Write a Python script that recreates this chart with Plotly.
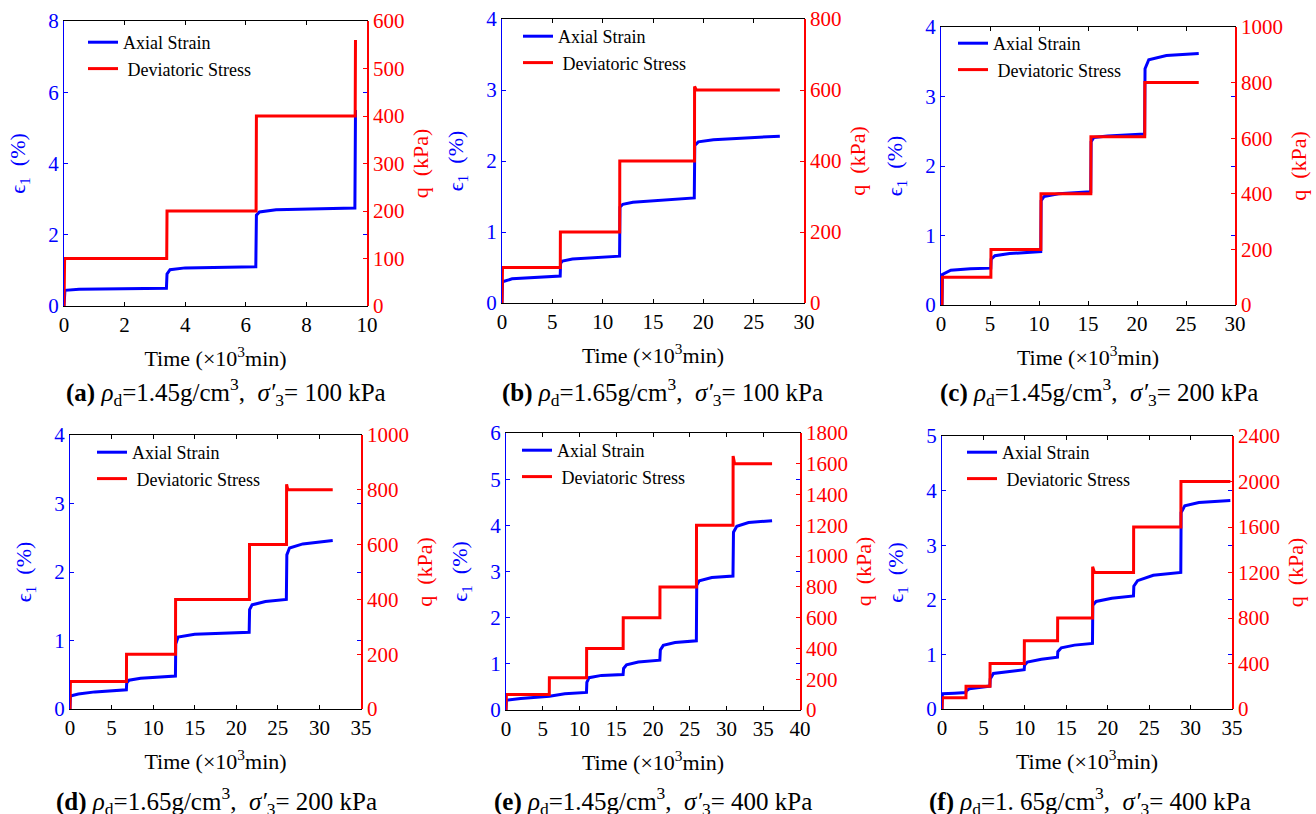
import plotly.graph_objects as go

# ---------------- data ----------------
# panel (a)
A_T = [0, 0.03, 0.5, 2.0, 3.38, 3.40, 3.50, 4.0, 5.5, 6.33, 6.35, 6.45, 7.0, 8.5, 9.60, 9.62]
A_E = [0, 0.44, 0.47, 0.49, 0.50, 0.90, 1.02, 1.07, 1.09, 1.10, 2.55, 2.64, 2.70, 2.73, 2.75, 5.50]
A_QT = [0, 0.02, 3.39, 3.40, 6.34, 6.35, 9.61, 9.62]
A_Q = [0, 100, 100, 200, 200, 400, 400, 560]

# panel (b)
B_T = [0, 0.05, 1, 3, 5.78, 5.82, 6.0, 7, 9, 11.68, 11.72, 12.0, 13, 16, 19.1, 19.15, 19.5, 21, 24, 27.6]
B_E = [0, 0.30, 0.34, 0.36, 0.38, 0.56, 0.59, 0.62, 0.64, 0.66, 1.35, 1.39, 1.42, 1.45, 1.48, 2.22, 2.27, 2.30, 2.32, 2.35]
B_QT = [0, 0.05, 5.79, 5.80, 11.69, 11.70, 19.12, 19.13, 19.3, 27.6]
B_Q = [0, 100, 100, 200, 200, 400, 400, 610, 600, 600]

# panel (c)
C_T = [0, 0.1, 0.15, 1, 3, 5.08, 5.12, 5.5, 7, 10.18, 10.22, 10.5, 12, 15.28, 15.32, 15.6, 17, 20.78, 20.82, 21.2, 23, 26.3]
C_E = [0, 0, 0.44, 0.50, 0.52, 0.53, 0.66, 0.71, 0.74, 0.77, 1.50, 1.56, 1.60, 1.63, 2.35, 2.41, 2.43, 2.46, 3.40, 3.53, 3.59, 3.62]
C_QT = [0, 0.1, 0.12, 5.09, 5.10, 10.19, 10.20, 15.29, 15.30, 20.79, 20.80, 26.3]
C_Q = [0, 0, 100, 100, 200, 200, 400, 400, 605, 605, 800, 800]

# panel (d)
D_T = [0, 0.05, 1, 3, 6.78, 6.82, 7.1, 8.5, 12.68, 12.72, 13.0, 15, 21.55, 21.6, 21.9, 23.5, 26.02, 26.08, 26.4, 28, 31.6]
D_E = [0, 0.19, 0.22, 0.25, 0.28, 0.38, 0.42, 0.45, 0.48, 0.95, 1.05, 1.09, 1.12, 1.45, 1.52, 1.57, 1.60, 2.25, 2.35, 2.41, 2.46]
D_QT = [0, 0.05, 6.79, 6.80, 12.69, 12.70, 21.58, 21.59, 26.04, 26.05, 26.2, 31.6]
D_Q = [0, 100, 100, 200, 200, 400, 400, 600, 600, 820, 800, 800]

# panel (e)
E_T = [0, 0.05, 2, 5.88, 5.92, 8, 10.95, 11.0, 11.3, 13, 15.93, 16.0, 16.4, 18, 20.93, 21.0, 21.4, 23,
       25.9, 25.95, 26.3, 28, 30.88, 30.95, 31.4, 33, 36.2]
E_E = [0, 0.21, 0.25, 0.29, 0.30, 0.35, 0.38, 0.60, 0.70, 0.75, 0.77, 0.90, 0.98, 1.04, 1.08, 1.30, 1.40, 1.46,
       1.50, 2.70, 2.80, 2.87, 2.90, 3.85, 3.98, 4.06, 4.10]
E_QT = [0, 0.05, 5.89, 5.90, 10.96, 10.97, 15.94, 15.95, 20.94, 20.95, 25.91, 25.92, 30.89, 30.90, 31.1, 36.2]
E_Q = [0, 100, 100, 210, 210, 400, 400, 600, 600, 800, 800, 1200, 1200, 1650, 1600, 1600]

# panel (f)
F_T = [0, 0.05, 1.5, 2.88, 2.92, 3.3, 5.78, 5.82, 6.2, 8, 9.92, 9.96, 10.3, 12, 13.94, 13.98, 14.4, 16,
       18.16, 18.2, 18.6, 20.5, 23.11, 23.15, 23.6, 25.5, 28.82, 28.86, 29.3, 31, 34.8]
F_E = [0, 0.28, 0.29, 0.30, 0.33, 0.37, 0.42, 0.55, 0.65, 0.69, 0.72, 0.80, 0.86, 0.91, 0.95, 1.05, 1.12, 1.17,
       1.20, 1.90, 1.97, 2.03, 2.07, 2.25, 2.35, 2.45, 2.50, 3.60, 3.72, 3.78, 3.82]
F_QT = [0, 0.05, 2.89, 2.90, 5.79, 5.80, 9.93, 9.94, 13.95, 13.96, 18.17, 18.18, 18.4, 23.12, 23.13, 28.83, 28.84, 34.8]
F_Q = [0, 100, 100, 200, 200, 400, 400, 600, 600, 800, 800, 1250, 1200, 1200, 1600, 1600, 2000, 2000]

# axis ranges / ticks
X_MAX = [10, 30, 30, 35, 40, 35]
X_DTICK = [2, 5, 5, 5, 5, 5]
E_MAX = [8, 4, 4, 4, 6, 5]
E_DTICK = [2, 1, 1, 1, 1, 1]
Q_MAX = [600, 800, 1000, 1000, 1800, 2400]
Q_DTICK = [100, 200, 200, 200, 200, 400]

CAPTIONS = [
    "<b>(a)</b> <i>ρ</i><sub>d</sub>=1.45g/cm<sup>3</sup>,  <i>σ′</i><sub>3</sub>= 100 kPa",
    "<b>(b)</b> <i>ρ</i><sub>d</sub>=1.65g/cm<sup>3</sup>,  <i>σ′</i><sub>3</sub>= 100 kPa",
    "<b>(c)</b> <i>ρ</i><sub>d</sub>=1.45g/cm<sup>3</sup>,  <i>σ′</i><sub>3</sub>= 200 kPa",
    "<b>(d)</b> <i>ρ</i><sub>d</sub>=1.65g/cm<sup>3</sup>,  <i>σ′</i><sub>3</sub>= 200 kPa",
    "<b>(e)</b> <i>ρ</i><sub>d</sub>=1.45g/cm<sup>3</sup>,  <i>σ′</i><sub>3</sub>= 400 kPa",
    "<b>(f)</b> <i>ρ</i><sub>d</sub>=1. 65g/cm<sup>3</sup>,  <i>σ′</i><sub>3</sub>= 400 kPa",
]
SERIES = [(A_T, A_E, A_QT, A_Q), (B_T, B_E, B_QT, B_Q), (C_T, C_E, C_QT, C_Q),
          (D_T, D_E, D_QT, D_Q), (E_T, E_E, E_QT, E_Q), (F_T, F_E, F_QT, F_Q)]

# ---------------- layout geometry (pixels) ----------------
W, H = 1316, 814
# plot boxes: left, right, top, bottom
BOX = [(64, 367, 21, 306), (502, 804, 19, 303), (941, 1235, 27, 305),
       (70, 361, 435, 709), (506, 800, 433, 710), (942, 1232, 436, 709)]
CAP_POS = [(226, 392), (662, 392), (1099, 392), (217, 801), (653, 801), (1090, 801)]
LEG_POS = [(83, 24), (518, 18), (953, 25), (92, 434), (517, 432), (962, 434)]

FONT = "Liberation Serif, Times New Roman, serif"
BLUE = "#0000FF"
RED = "#FF0000"

fig = go.Figure()
layout = dict(
    template="none",
    width=W, height=H, margin=dict(l=0, r=0, t=0, b=0, autoexpand=False),
    paper_bgcolor="white", plot_bgcolor="white",
    font=dict(family=FONT, size=21, color="black"),
    annotations=[],
)

for i in range(6):
    n = i + 1
    xs = "" if n == 1 else str(n)
    yl = "" if n == 1 else str(2 * n - 1)
    yr = str(2 * n)
    leg = "legend" if n == 1 else "legend%d" % n
    t, e, qt, q = SERIES[i]
    fig.add_trace(go.Scatter(x=t, y=e, mode="lines", name="Axial Strain",
                             line=dict(color=BLUE, width=3),
                             xaxis="x" + xs, yaxis="y" + yl, legend=leg))
    fig.add_trace(go.Scatter(x=qt, y=q, mode="lines", name=" Deviatoric Stress",
                             line=dict(color=RED, width=3),
                             xaxis="x" + xs, yaxis="y" + yr, legend=leg))
    l, r, tp, b = BOX[i]
    xd = [l / W, r / W]
    yd = [1 - b / H, 1 - tp / H]
    layout["xaxis" + xs] = dict(
        domain=xd, anchor="y" + yl, range=[0, X_MAX[i]], dtick=X_DTICK[i], tick0=0,
        automargin=False,
        showline=True, linecolor="black", linewidth=1.2, mirror="ticks",
        ticks="inside", ticklen=4, tickcolor="black", showgrid=False, zeroline=False,
        tickfont=dict(family=FONT, size=21, color="black"),
        title=dict(text="Time (×10<sup>3</sup>min)", font=dict(family=FONT, size=22, color="black"), standoff=14),
    )
    layout["yaxis" + yl] = dict(
        domain=yd, anchor="x" + xs, range=[0, E_MAX[i]], dtick=E_DTICK[i], tick0=0,
        automargin=False,
        showline=True, linecolor=BLUE, linewidth=1.2, mirror="ticks",
        ticks="inside", ticklen=4, tickcolor=BLUE, showgrid=False, zeroline=False,
        tickfont=dict(family=FONT, size=21, color=BLUE),
        title=dict(text="ϵ<sub>1</sub>  (%)", font=dict(family=FONT, size=22, color=BLUE), standoff=16),
    )
    layout["yaxis" + yr] = dict(
        domain=yd, anchor="x" + xs, overlaying="y" + yl, side="right",
        range=[0, Q_MAX[i]], dtick=Q_DTICK[i], tick0=0,
        automargin=False,
        showline=True, linecolor=RED, linewidth=1.5,
        ticks="inside", ticklen=4, tickcolor=RED, showgrid=False, zeroline=False,
        tickfont=dict(family=FONT, size=21, color=RED),
        title=dict(text="q  (kPa)", font=dict(family=FONT, size=22, color=RED), standoff=9),
    )
    lx, ly = LEG_POS[i]
    layout[leg] = dict(
        x=lx / W, y=1 - ly / H, xanchor="left", yanchor="top",
        bgcolor="rgba(0,0,0,0)", borderwidth=0, tracegroupgap=0,
        font=dict(family=FONT, size=18, color="black"),
    )
    cx, cy = CAP_POS[i]
    layout["annotations"].append(dict(
        text=CAPTIONS[i], x=cx / W, y=1 - cy / H, xref="paper", yref="paper",
        xanchor="center", yanchor="middle", showarrow=False,
        font=dict(family=FONT, size=25, color="black"),
    ))

fig.update_layout(**layout)
fig.write_html("out.html", config={"displayModeBar": False},
               post_script="document.body.style.margin='0';document.body.style.overflow='hidden';")
